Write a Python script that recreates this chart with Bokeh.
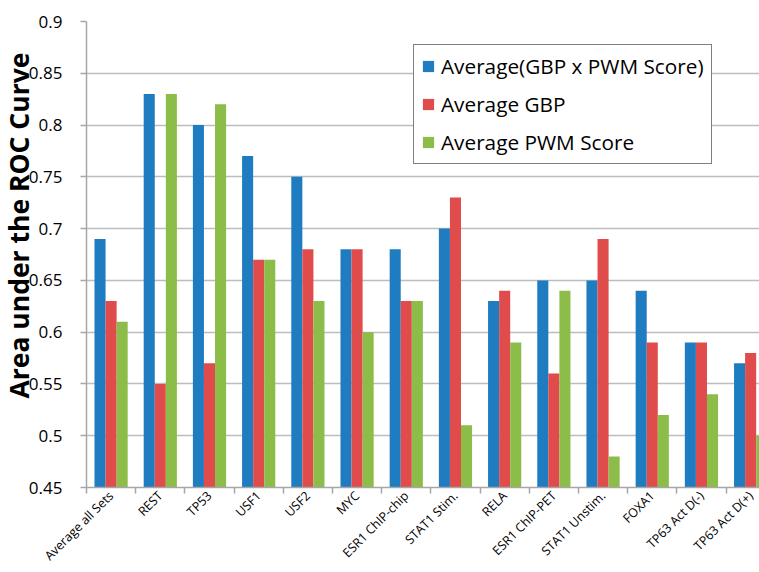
from bokeh.plotting import figure
from bokeh.models import Range1d, FixedTicker, Legend, LegendItem, ColumnDataSource, Title
from bokeh.embed import file_html
from bokeh.resources import INLINE
import math

categories = ["Average all Sets", "REST", "TP53", "USF1", "USF2", "MYC",
              "ESR1 ChIP-chip", "STAT1 Stim.", "RELA", "ESR1 ChIP-PET",
              "STAT1 Unstim.", "FOXA1", "TP63 Act D(-)", "TP63 Act D(+)"]
gbp_x_pwm = [0.69, 0.83, 0.80, 0.77, 0.75, 0.68, 0.68, 0.70, 0.63, 0.65, 0.65, 0.64, 0.59, 0.57]
avg_gbp   = [0.63, 0.55, 0.57, 0.67, 0.68, 0.68, 0.63, 0.73, 0.64, 0.56, 0.69, 0.59, 0.59, 0.58]
avg_pwm   = [0.61, 0.83, 0.82, 0.67, 0.63, 0.60, 0.63, 0.51, 0.59, 0.64, 0.48, 0.52, 0.54, 0.50]
series_names = ["Average(GBP x PWM Score)", "Average GBP", "Average PWM Score"]
y_ticks = [0.45, 0.5, 0.55, 0.6, 0.65, 0.7, 0.75, 0.8, 0.85, 0.9]
y_title = "Area under the ROC Curve"

colors = ["#1f7cc1", "#e04c4c", "#8dbd49"]
FONT = "Open Sans"
Y_MIN, Y_MAX = y_ticks[0], y_ticks[-1]
X_END = 13.68        # visible category span (chart is cropped at the right)

p = figure(width=759, height=572, output_backend="svg", toolbar_location=None,
           x_range=Range1d(0, X_END), y_range=Range1d(Y_MIN, Y_MAX),
           min_border_left=86, min_border_top=21, min_border_bottom=84, min_border_right=0)
p.outline_line_color = None
p.background_fill_color = "white"

centers = [i + 0.5 for i in range(len(categories))]
bw = 0.225
offsets = [-bw, 0.0, bw]
renderers = []
for k, vals in enumerate([gbp_x_pwm, avg_gbp, avg_pwm]):
    src = ColumnDataSource(dict(x=[c + offsets[k] for c in centers], top=vals))
    r = p.vbar(x="x", top="top", bottom=Y_MIN, width=bw, source=src,
               fill_color=colors[k], line_color=None)
    renderers.append(r)

# x axis: names at category centres, tick marks between categories
p.xaxis.ticker = FixedTicker(ticks=centers, minor_ticks=list(range(len(categories) + 1)))
p.xaxis.major_label_overrides = {c: lab for c, lab in zip(centers, categories)}
p.xaxis.major_label_orientation = math.pi / 4
p.xaxis.major_tick_line_color = None
p.xaxis.major_tick_out = 0
p.xaxis.major_tick_in = 0
p.xaxis.minor_tick_in = 0
p.xaxis.minor_tick_out = 6
p.xaxis.minor_tick_line_color = "#a6a6a6"
p.xaxis.minor_tick_line_width = 1.5
p.xaxis.axis_line_color = "#a6a6a6"
p.xaxis.axis_line_width = 1.5
p.xaxis.major_label_text_font = FONT
p.xaxis.major_label_text_font_size = "12.5px"
p.xaxis.major_label_text_color = "black"
p.xaxis.major_label_standoff = 0
p.xgrid.grid_line_color = None

# y axis
p.yaxis.ticker = FixedTicker(ticks=y_ticks)
p.yaxis.minor_tick_line_color = None
p.yaxis.major_tick_in = 0
p.yaxis.major_tick_out = 6
p.yaxis.major_tick_line_color = "#a6a6a6"
p.yaxis.major_tick_line_width = 1.5
p.yaxis.axis_line_color = "#a6a6a6"
p.yaxis.axis_line_width = 1.5
p.yaxis.major_label_text_font = FONT
p.yaxis.major_label_text_font_size = "17px"
p.yaxis.major_label_text_color = "black"
p.yaxis.major_label_standoff = 18
p.ygrid.grid_line_color = "#bdbdbd"
p.ygrid.grid_line_width = 1.5

ylab = Title(text=y_title, align="left", offset=89, standoff=-22,
             text_font=FONT, text_font_size="26.5px", text_font_style="bold",
             text_color="black")
p.add_layout(ylab, "left")

legend = Legend(items=[LegendItem(label=n, renderers=[r]) for n, r in zip(series_names, renderers)],
                location=(327, 323))
legend.label_text_font = FONT
legend.label_text_font_size = "20.75px"
legend.label_text_color = "black"
legend.glyph_width = 14
legend.glyph_height = 14
legend.label_height = 24
legend.spacing = 10
legend.padding = 7
legend.margin = 0
legend.label_standoff = 6
legend.border_line_color = "black"
legend.border_line_width = 1.2
legend.background_fill_alpha = 1
p.add_layout(legend, "center")

open("out.html", "w").write(file_html(p, INLINE))
